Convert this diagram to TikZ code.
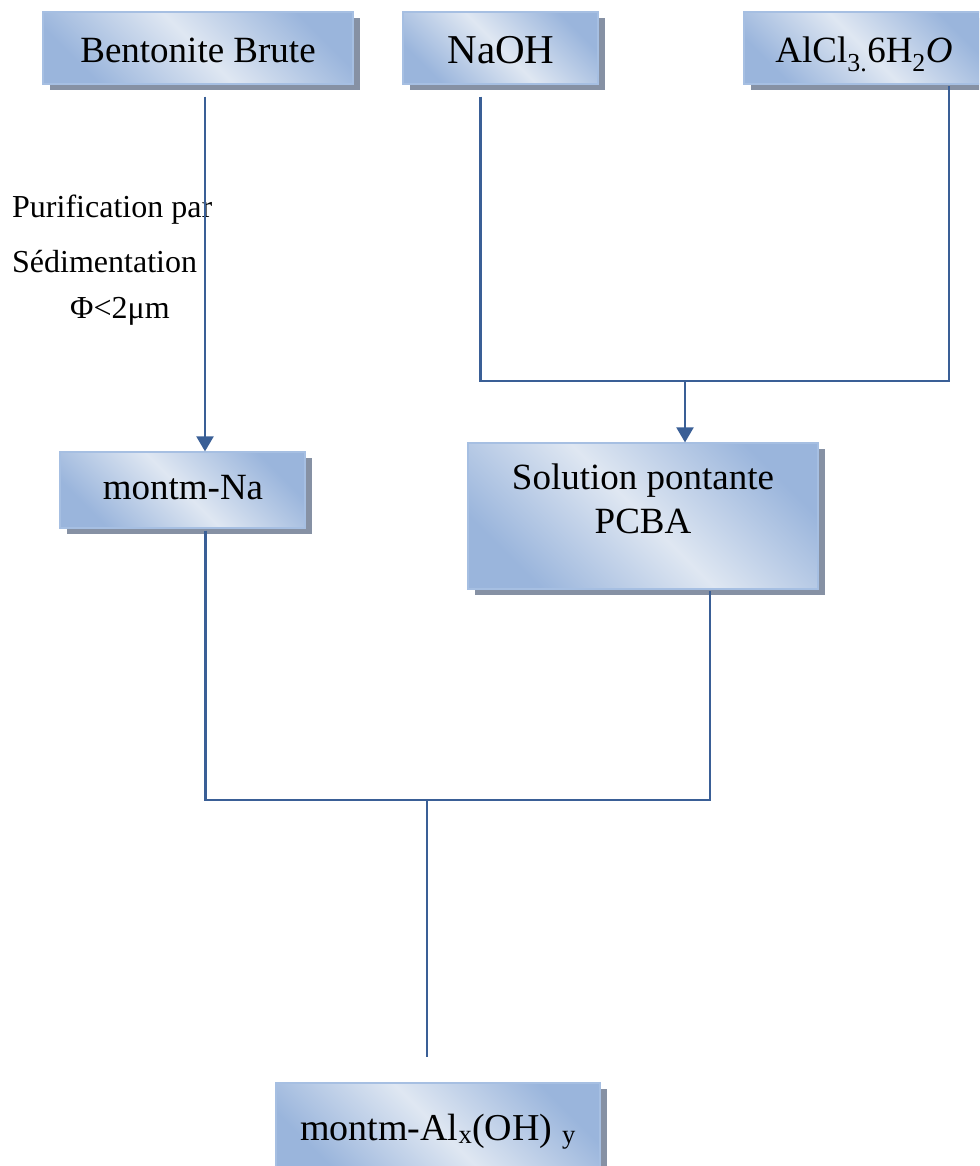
\documentclass[tikz,border=0pt]{standalone}
\usepackage{fontspec}
\setmainfont{Liberation Serif}
\usetikzlibrary{arrows.meta,shadows,calc}
\definecolor{boxdark}{HTML}{9AB5DC}
\definecolor{boxlight}{HTML}{DFE7F2}
\definecolor{boxedge}{HTML}{A6BFE2}
\definecolor{shadowc}{HTML}{8691A4}
\definecolor{linec}{HTML}{3A5F96}
\tikzset{
  box/.style={rectangle, draw=boxedge, line width=1.2pt, inner sep=0pt,
    top color=boxdark, bottom color=boxdark, middle color=boxlight, shading angle=-45,
    drop shadow={shadow xshift=7pt, shadow yshift=-6pt, fill=shadowc, draw=none, opacity=1}},
  boxtext/.style={anchor=base, inner sep=0pt, align=center, font=\fontsize{37}{44}\selectfont},
  lbl/.style={anchor=base west, inner sep=0pt, font=\fontsize{32}{38}\selectfont},
  conn/.style={draw=linec, line width=2.2pt},
  arr/.style={conn, -{Triangle[width=17pt,length=15pt]}},
}
\begin{document}
\begin{tikzpicture}[x=1pt,y=-1pt]
\useasboundingbox (0,0) rectangle (979,1166);
\clip (0,0) rectangle (979,1166);
% boxes
\node[box, minimum width=310pt, minimum height=72pt] (bent) at (198,48) {};
\node[box, minimum width=195pt, minimum height=72pt] (naoh) at (500.5,48) {};
\node[box, minimum width=240pt, minimum height=72pt] (alcl) at (864,48) {};
\node[box, minimum width=245pt, minimum height=76pt] (mna) at (182.5,490) {};
\node[box, minimum width=350pt, minimum height=146pt] (sol) at (643,516) {};
\node[box, minimum width=324pt, minimum height=90pt] (mal) at (438,1128) {};
% texts
\node[boxtext] (tbent) at (198,63) {Bentonite Brute};
\node[boxtext, font=\fontsize{41}{48}\selectfont] (tnaoh) at (501,64) {NaOH};
\node[boxtext] (talcl) at (864,63) {AlCl\textsubscript{3.}6H\textsubscript{2}\textit{O}};
\node[boxtext] (tmna) at (183,499) {montm-Na};
\node[boxtext] (tsol1) at (643,489) {Solution pontante};
\node[boxtext] (tsol2) at (643,533) {PCBA};
\node[boxtext, font=\fontsize{38}{46}\selectfont] (tmal) at (438,1140) {montm-Al\textsubscript{x}(OH) \textsubscript{y}};
% labels
\node[lbl] (l1) at (12,218) {Purification par};
\node[lbl] (l2) at (12,272) {Sédimentation};
\node[lbl] (l3) at (70,318) {Φ<2μm};
% connectors
\coordinate (bb) at ([xshift=7pt,yshift=-12pt]bent.south);
\draw[arr] (bb) -- (bb |- mna.north);
\coordinate (nb) at ([xshift=-20pt,yshift=-12pt]naoh.south);
\coordinate (ab) at ([xshift=85pt,yshift=-1pt]alcl.south);
\coordinate (j1) at (685,381);
\draw[conn] (nb) |- (j1) -| (ab);
\draw[arr] (j1) -- (j1 |- sol.north);
\coordinate (mb) at ([xshift=23pt,yshift=-2pt]mna.south);
\coordinate (sb) at ([xshift=67pt,yshift=-1pt]sol.south);
\coordinate (j2) at (427,800);
\draw[conn] (mb) |- (j2) -| (sb);
\coordinate (e2) at ([yshift=25pt]j2 |- mal.north);
\draw[conn] (j2) -- (e2);
\end{tikzpicture}
\end{document}
